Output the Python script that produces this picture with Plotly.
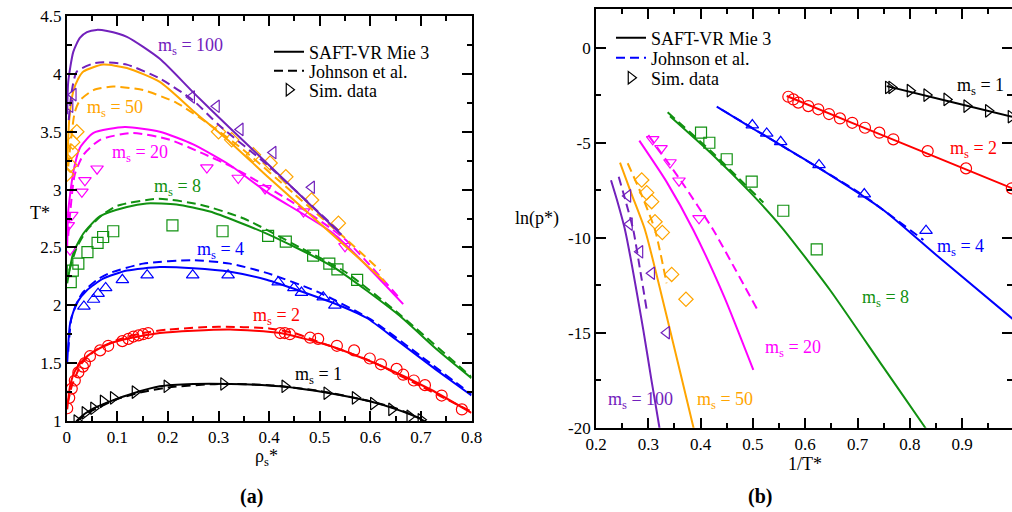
import plotly.graph_objects as go

# ---------------- Panel (a): T* vs rho_s* ----------------
m1_saft_rho = [0.015, 0.02, 0.035, 0.053, 0.086, 0.132, 0.184, 0.25, 0.323, 0.422, 0.52, 0.599, 0.652, 0.698, 0.71]
m1_saft_T = [0.97, 1.0, 1.06, 1.11, 1.17, 1.24, 1.30, 1.32, 1.32, 1.30, 1.24, 1.17, 1.10, 1.02, 0.99]
m1_john_rho = [0.02, 0.05, 0.1, 0.15, 0.2, 0.3, 0.4, 0.5, 0.6, 0.65, 0.7]
m1_john_T = [1.0, 1.09, 1.19, 1.25, 1.29, 1.32, 1.31, 1.26, 1.17, 1.11, 1.02]
m1_sim_rho = [0.02, 0.036, 0.053, 0.072, 0.092, 0.135, 0.198, 0.31, 0.431, 0.514, 0.57, 0.606, 0.642, 0.678, 0.70]
m1_sim_T = [1.0, 1.07, 1.11, 1.17, 1.20, 1.25, 1.30, 1.32, 1.30, 1.24, 1.20, 1.15, 1.10, 1.04, 1.01]

m2_saft_rho = [0.001, 0.0066, 0.016, 0.033, 0.053, 0.086, 0.119, 0.184, 0.25, 0.323, 0.422, 0.52, 0.62, 0.72, 0.8]
m2_saft_T = [1.10, 1.30, 1.43, 1.53, 1.60, 1.67, 1.71, 1.76, 1.78, 1.79, 1.76, 1.65, 1.48, 1.27, 1.07]
m2_john_rho = [0.002, 0.01, 0.03, 0.06, 0.1, 0.15, 0.2, 0.3, 0.4, 0.45, 0.5, 0.6, 0.7, 0.8]
m2_john_T = [1.15, 1.30, 1.50, 1.62, 1.70, 1.76, 1.79, 1.815, 1.80, 1.76, 1.68, 1.52, 1.30, 1.08]
m2_sim_rho = [0.001, 0.005, 0.010, 0.016, 0.023, 0.032, 0.036, 0.046, 0.066, 0.082, 0.110, 0.122, 0.132,
              0.142, 0.151, 0.161, 0.422, 0.431, 0.441, 0.481, 0.497, 0.534, 0.568, 0.599, 0.621, 0.652,
              0.665, 0.686, 0.708, 0.741, 0.781]
m2_sim_T = [1.11, 1.20, 1.28, 1.35, 1.42, 1.47, 1.50, 1.56, 1.61, 1.65, 1.69, 1.71, 1.73,
            1.74, 1.75, 1.76, 1.76, 1.76, 1.75, 1.72, 1.71, 1.65, 1.61, 1.54, 1.49, 1.45,
            1.40, 1.35, 1.31, 1.22, 1.10]

m4_saft_rho = [0.001, 0.007, 0.02, 0.04, 0.072, 0.119, 0.184, 0.25, 0.323, 0.395, 0.527, 0.593, 0.652, 0.731, 0.8]
m4_saft_T = [1.50, 1.85, 2.02, 2.13, 2.23, 2.30, 2.33, 2.32, 2.29, 2.22, 2.02, 1.89, 1.70, 1.44, 1.22]
m4_john_rho = [0.003, 0.01, 0.03, 0.06, 0.086, 0.151, 0.25, 0.323, 0.395, 0.494, 0.6, 0.7, 0.8]
m4_john_T = [1.60, 1.90, 2.10, 2.22, 2.28, 2.36, 2.39, 2.36, 2.28, 2.12, 1.88, 1.56, 1.23]
m4_sim_rho = [0.034, 0.053, 0.062, 0.077, 0.110, 0.159, 0.249, 0.319, 0.418, 0.449, 0.464, 0.507, 0.530]
m4_sim_T = [1.99, 2.05, 2.10, 2.15, 2.22, 2.26, 2.26, 2.26, 2.20, 2.15, 2.11, 2.07, 2.00]

m8_saft_rho = [0.001, 0.013, 0.033, 0.066, 0.119, 0.158, 0.217, 0.283, 0.395, 0.527, 0.655, 0.731, 0.8]
m8_saft_T = [2.19, 2.45, 2.62, 2.77, 2.85, 2.88, 2.87, 2.81, 2.62, 2.33, 1.92, 1.62, 1.37]
m8_john_rho = [0.005, 0.02, 0.04, 0.07, 0.1, 0.18, 0.264, 0.35, 0.461, 0.55, 0.65, 0.8]
m8_john_T = [2.30, 2.50, 2.65, 2.78, 2.86, 2.92, 2.87, 2.75, 2.50, 2.29, 1.95, 1.38]
m8_sim_rho = [0.008, 0.012, 0.023, 0.041, 0.061, 0.072, 0.092, 0.209, 0.308, 0.398, 0.433, 0.487, 0.519, 0.535, 0.574]
m8_sim_T = [2.20, 2.30, 2.36, 2.46, 2.54, 2.59, 2.64, 2.69, 2.64, 2.60, 2.55, 2.43, 2.36, 2.31, 2.22]

m20_saft_rho = [0.001, 0.003, 0.013, 0.026, 0.053, 0.115, 0.184, 0.25, 0.323, 0.395, 0.527, 0.665]
m20_saft_T = [2.50, 2.81, 3.15, 3.36, 3.49, 3.54, 3.50, 3.39, 3.21, 2.98, 2.62, 2.01]
m20_john_rho = [0.003, 0.016, 0.033, 0.066, 0.13, 0.204, 0.27, 0.329, 0.45, 0.55, 0.66]
m20_john_T = [2.60, 3.13, 3.30, 3.43, 3.49, 3.43, 3.31, 3.19, 2.88, 2.57, 2.05]
m20_sim_rho = [0.0066, 0.003, 0.010, 0.030, 0.036, 0.060, 0.277, 0.339, 0.392, 0.468, 0.550]
m20_sim_T = [2.48, 2.69, 2.78, 2.98, 3.08, 3.18, 3.19, 3.10, 3.01, 2.81, 2.51]

m50_saft_rho = [0.001, 0.005, 0.013, 0.023, 0.033, 0.072, 0.119, 0.184, 0.25, 0.323, 0.40, 0.50, 0.63]
m50_saft_T = [3.20, 3.60, 3.85, 3.96, 4.02, 4.08, 4.05, 3.93, 3.68, 3.41, 3.10, 2.71, 2.20]
m50_john_rho = [0.003, 0.016, 0.026, 0.053, 0.092, 0.151, 0.217, 0.283, 0.35, 0.45, 0.55, 0.62]
m50_john_T = [3.20, 3.67, 3.77, 3.86, 3.89, 3.86, 3.75, 3.56, 3.34, 2.96, 2.58, 2.30]
m50_sim_rho = [0.0, 0.007, 0.010, 0.012, 0.020, 0.300, 0.326, 0.369, 0.402, 0.433, 0.484, 0.537]
m50_sim_T = [3.13, 3.21, 3.33, 3.41, 3.50, 3.50, 3.43, 3.30, 3.23, 3.11, 2.91, 2.71]

m100_saft_rho = [0.001, 0.003, 0.013, 0.026, 0.04, 0.059, 0.08, 0.119, 0.184, 0.25, 0.323, 0.40, 0.543]
m100_saft_T = [3.65, 3.93, 4.19, 4.31, 4.36, 4.38, 4.37, 4.32, 4.13, 3.84, 3.53, 3.21, 2.61]
m100_john_rho = [0.004, 0.010, 0.020, 0.053, 0.072, 0.119, 0.184, 0.25, 0.30, 0.40, 0.543]
m100_john_T = [3.60, 3.85, 4.02, 4.09, 4.10, 4.08, 3.96, 3.77, 3.56, 3.20, 2.62]
m100_sim_rho = [0.0066, 0.013, 0.247, 0.296, 0.343, 0.408, 0.484]
m100_sim_T = [3.72, 3.82, 3.80, 3.72, 3.52, 3.32, 3.02]

# ---------------- Panel (b): ln(p*) vs 1/T* ----------------
m1_saft_invT = [0.7558, 0.87, 1.0]
m1_saft_lnp = [-2.02, -2.79, -3.66]
m1_sim_invT = [0.7589, 0.7653, 0.8004, 0.8323, 0.8706, 0.9088, 0.9501, 0.9935]
m1_sim_lnp = [-2.09, -2.09, -2.26, -2.49, -2.72, -3.07, -3.32, -3.63]

m2_saft_invT = [0.5646, 0.70, 0.85, 1.0]
m2_saft_lnp = [-2.54, -4.07, -5.76, -7.45]
m2_sim_invT = [0.5677, 0.5773, 0.5868, 0.6059, 0.625, 0.6455, 0.6665, 0.69, 0.7143, 0.7417, 0.7685,
               0.8342, 0.9075, 0.995]
m2_sim_lnp = [-2.58, -2.72, -2.89, -3.07, -3.24, -3.49, -3.72, -3.95, -4.21, -4.47, -4.82,
              -5.44, -6.35, -7.40]

m4_saft_invT = [0.4308, 0.4945, 0.622, 0.7493, 0.85, 1.0]
m4_saft_lnp = [-3.10, -4.16, -6.26, -8.54, -10.9, -14.35]
m4_john_invT = [0.44, 0.60, 0.7048, 0.826]
m4_john_lnp = [-3.25, -5.90, -7.66, -10.12]
m4_sim_invT = [0.4989, 0.5264, 0.5531, 0.6264, 0.713, 0.831]
m4_sim_lnp = [-4.07, -4.51, -4.95, -6.17, -7.70, -9.63]

m8_saft_invT = [0.3415, 0.42, 0.4945, 0.555, 0.6474, 0.749, 0.826, 0.832]
m8_saft_lnp = [-3.60, -5.55, -7.60, -9.45, -12.75, -16.8, -19.86, -20.1]
m8_john_invT = [0.337, 0.42, 0.52]
m8_john_lnp = [-3.40, -5.45, -8.15]
m8_sim_invT = [0.4008, 0.4167, 0.4499, 0.4977, 0.5581, 0.622]
m8_sim_lnp = [-4.47, -5.00, -5.87, -7.05, -8.58, -10.61]

m20_saft_invT = [0.2828, 0.335, 0.386, 0.445, 0.5008]
m20_saft_lnp = [-4.89, -7.06, -9.59, -13.1, -16.96]
m20_john_invT = [0.30, 0.364, 0.4243, 0.467, 0.5073]
m20_john_lnp = [-4.60, -7.07, -9.59, -11.7, -13.72]
m20_sim_invT = [0.3084, 0.3243, 0.3415, 0.3587, 0.397]
m20_sim_lnp = [-4.82, -5.30, -6.04, -7.00, -8.98]

m50_saft_invT = [0.2459, 0.268, 0.2937, 0.3415, 0.386, 0.388]
m50_saft_lnp = [-6.05, -7.70, -9.59, -14.86, -19.95, -20.2]
m50_john_invT = [0.2606, 0.285, 0.3128, 0.335]
m50_john_lnp = [-6.08, -7.60, -9.59, -12.4]
m50_sim_invT = [0.2874, 0.2969, 0.3065, 0.3128, 0.3268, 0.3447, 0.372]
m50_sim_lnp = [-6.96, -7.63, -8.10, -9.16, -9.72, -11.93, -13.24]

m100_saft_invT = [0.2287, 0.240, 0.2555, 0.2905, 0.306, 0.321, 0.322]
m100_saft_lnp = [-6.97, -8.00, -9.59, -14.86, -17.5, -19.95, -20.2]
m100_john_invT = [0.2434, 0.258, 0.2713, 0.285, 0.297]
m100_john_lnp = [-6.79, -8.20, -9.59, -11.8, -13.8]
m100_sim_invT = [0.261, 0.264, 0.284, 0.3065, 0.335]
m100_sim_lnp = [-7.80, -9.28, -10.74, -11.87, -15.0]

# ---------------- styles ----------------
FONT = "Liberation Serif, Times New Roman, Times, serif"
C = {"1": "#000000", "2": "#ff0000", "4": "#0000ff", "8": "#119111",
     "20": "#ff00ff", "50": "#ffa500", "100": "#7221bc"}
SYM = {"1": "triangle-right-open", "2": "circle-open", "4": "triangle-up-open", "8": "square-open",
       "20": "triangle-down-open", "50": "diamond-open", "100": "triangle-left-open"}
DASH = "9px,5px"
LW = 2

fig = go.Figure()


def add_line(x, y, col, dash, xa, ya):
    fig.add_trace(go.Scatter(x=x, y=y, mode="lines", showlegend=False, hoverinfo="skip",
                             line=dict(color=col, width=LW, dash=dash, shape="spline", smoothing=0.6),
                             xaxis=xa, yaxis=ya))


def add_pts(x, y, col, sym, xa, ya):
    fig.add_trace(go.Scatter(x=x, y=y, mode="markers", showlegend=False, hoverinfo="skip",
                             marker=dict(symbol=sym, size=11, color=col, line=dict(color=col, width=1.2)),
                             xaxis=xa, yaxis=ya))


left = [
    ("1", m1_saft_rho, m1_saft_T, m1_john_rho, m1_john_T, m1_sim_rho, m1_sim_T),
    ("2", m2_saft_rho, m2_saft_T, m2_john_rho, m2_john_T, m2_sim_rho, m2_sim_T),
    ("4", m4_saft_rho, m4_saft_T, m4_john_rho, m4_john_T, m4_sim_rho, m4_sim_T),
    ("8", m8_saft_rho, m8_saft_T, m8_john_rho, m8_john_T, m8_sim_rho, m8_sim_T),
    ("20", m20_saft_rho, m20_saft_T, m20_john_rho, m20_john_T, m20_sim_rho, m20_sim_T),
    ("50", m50_saft_rho, m50_saft_T, m50_john_rho, m50_john_T, m50_sim_rho, m50_sim_T),
    ("100", m100_saft_rho, m100_saft_T, m100_john_rho, m100_john_T, m100_sim_rho, m100_sim_T),
]
for k, sx, sy, jx, jy, dx, dy in left:
    add_line(jx, jy, C[k], DASH, "x", "y")
    add_line(sx, sy, C[k], "solid", "x", "y")
    add_pts(dx, dy, C[k], SYM[k], "x", "y")

right = [
    ("1", m1_saft_invT, m1_saft_lnp, None, None, m1_sim_invT, m1_sim_lnp),
    ("2", m2_saft_invT, m2_saft_lnp, None, None, m2_sim_invT, m2_sim_lnp),
    ("4", m4_saft_invT, m4_saft_lnp, m4_john_invT, m4_john_lnp, m4_sim_invT, m4_sim_lnp),
    ("8", m8_saft_invT, m8_saft_lnp, m8_john_invT, m8_john_lnp, m8_sim_invT, m8_sim_lnp),
    ("20", m20_saft_invT, m20_saft_lnp, m20_john_invT, m20_john_lnp, m20_sim_invT, m20_sim_lnp),
    ("50", m50_saft_invT, m50_saft_lnp, m50_john_invT, m50_john_lnp, m50_sim_invT, m50_sim_lnp),
    ("100", m100_saft_invT, m100_saft_lnp, m100_john_invT, m100_john_lnp, m100_sim_invT, m100_sim_lnp),
]
for k, sx, sy, jx, jy, dx, dy in right:
    if jx is not None:
        add_line(jx, jy, C[k], DASH, "x2", "y2")
    add_line(sx, sy, C[k], "solid", "x2", "y2")
    add_pts(dx, dy, C[k], SYM[k], "x2", "y2")

W, H = 1012, 512


def px(x):
    return x / W


def py(y):
    return 1 - y / H


# legend entries: one legend per row so rows can sit close together
legfont = dict(family=FONT, size=18, color="black")
legend_layout = {}
rows = [
    # (legend id, name, kind, color, x-left px, row centre px, axes)
    ("legend", "SAFT-VR Mie 3", "solid", "black", 269, 52, "x", "y"),
    ("legend2", "Johnson et al.", "dash", "black", 269, 71, "x", "y"),
    ("legend3", "Sim. data", "marker", "black", 269, 90, "x", "y"),
    ("legend4", "SAFT-VR Mie 3", "solid", "black", 611, 38, "x2", "y2"),
    ("legend5", "Johnson et al.", "dash", "blue", 611, 58, "x2", "y2"),
    ("legend6", "Sim. data", "marker", "black", 611, 78, "x2", "y2"),
]
for lg, name, kind, col, lx, ly, xa, ya in rows:
    if kind == "marker":
        tr = go.Scatter(x=[None], y=[None], mode="markers", name=name, legend=lg,
                        marker=dict(symbol="triangle-right-open", size=11, color=col,
                                    line=dict(color=col, width=1.2)), xaxis=xa, yaxis=ya)
    else:
        tr = go.Scatter(x=[None], y=[None], mode="lines", name=name, legend=lg,
                        line=dict(color=col, width=LW, dash=("solid" if kind == "solid" else DASH)),
                        xaxis=xa, yaxis=ya)
    fig.add_trace(tr)
    legend_layout[lg] = dict(x=px(lx), y=py(ly), xanchor="left", yanchor="middle", font=legfont,
                             bgcolor="rgba(0,0,0,0)", borderwidth=0, itemwidth=30)

tickfont = dict(family=FONT, size=17, color="black")


def axis(**kw):
    d = dict(showline=True, linecolor="black", linewidth=1.8, mirror="allticks", ticks="inside",
             ticklen=10, tickwidth=1.5, tickcolor="black", showgrid=False, zeroline=False,
             tickfont=tickfont, fixedrange=True, automargin=False,
             minor=dict(ticks="inside", ticklen=5, tickwidth=1.5, tickcolor="black", showgrid=False))
    d.update(kw)
    return d


xa1 = axis(domain=[px(66.7), px(471.5)], range=[0, 0.8], dtick=0.1, tick0=0, anchor="y")
xa1["minor"]["dtick"] = 0.05
ya1 = axis(domain=[py(421), py(16)], range=[1, 4.5], dtick=0.5, tick0=1, anchor="x")
ya1["minor"]["dtick"] = 0.25
xa2 = axis(domain=[px(596), 1.0], range=[0.2, 0.9954], dtick=0.1, tick0=0.2, anchor="y2")
xa2["minor"]["dtick"] = 0.05
ya2 = axis(domain=[py(427.7), py(9)], range=[-20, 2.04], tickmode="array",
           tickvals=[0, -5, -10, -15, -20], ticktext=["0", "-5", "-10", "-15", "-20"], anchor="x2")
ya2["minor"].update(tickmode="linear", tick0=0, dtick=2.5)

ann = []


def label(x, y, text, color, size=18, bold=False):
    t = "<b>%s</b>" % text if bold else text
    ann.append(dict(x=px(x), y=py(y), xref="paper", yref="paper", text=t, showarrow=False,
                    xanchor="center", yanchor="middle",
                    font=dict(family=FONT, size=size, color=color)))


# curve labels, panel (a)
label(190, 46, "m<sub>s</sub> = 100", C["100"])
label(115, 108, "m<sub>s</sub> = 50", C["50"])
label(140, 153, "m<sub>s</sub> = 20", C["20"])
label(177, 187, "m<sub>s</sub> = 8", C["8"])
label(220, 250, "m<sub>s</sub> = 4", C["4"])
label(276, 316, "m<sub>s</sub> = 2", C["2"])
label(318, 375, "m<sub>s</sub> = 1", C["1"])
# curve labels, panel (b)
label(980, 86, "m<sub>s</sub> = 1", C["1"])
label(973, 149, "m<sub>s</sub> = 2", C["2"])
label(960, 247, "m<sub>s</sub> = 4", C["4"])
label(885, 298, "m<sub>s</sub> = 8", C["8"])
label(793, 348, "m<sub>s</sub> = 20", C["20"])
label(725, 400, "m<sub>s</sub> = 50", C["50"])
label(640, 400, "m<sub>s</sub> = 100", C["100"])
# axis titles
label(40, 213, "T*", "black")
label(266, 457, "ρ<sub>s</sub>*", "black")
label(537, 218, "ln(p*)", "black")
label(805, 464, "1/T*", "black")
label(251, 496, "(a)", "black", size=20, bold=True)
label(760, 496, "(b)", "black", size=20, bold=True)

fig.update_layout(
    template="none",
    width=W, height=H, margin=dict(l=0, r=0, t=0, b=0, autoexpand=False),
    paper_bgcolor="white", plot_bgcolor="white",
    font=dict(family=FONT, color="black"),
    xaxis=xa1, yaxis=ya1, xaxis2=xa2, yaxis2=ya2,
    annotations=ann,
    showlegend=True,
    **legend_layout,
)

fig.write_html("out.html")
